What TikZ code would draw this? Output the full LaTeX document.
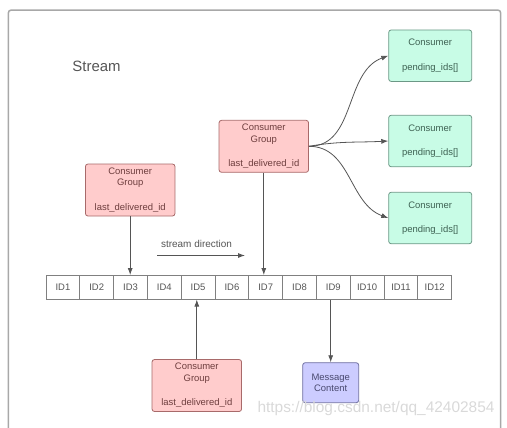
\documentclass[tikz,border=0pt]{standalone}
\usepackage{fontspec}
\setmainfont{Liberation Sans}
\usetikzlibrary{arrows.meta}
\usetikzlibrary{positioning}

\definecolor{groupfill}{HTML}{FFCCCC}
\definecolor{groupline}{HTML}{A86A6A}
\definecolor{grouptext}{HTML}{6E3E3E}
\definecolor{consfill}{HTML}{C8FCE6}
\definecolor{consline}{HTML}{6C9886}
\definecolor{constext}{HTML}{3E6253}
\definecolor{msgfill}{HTML}{CCCCFF}
\definecolor{msgline}{HTML}{6E6EA0}
\definecolor{msgtext}{HTML}{4A4A70}
\definecolor{linegray}{HTML}{555555}
\definecolor{framegray}{HTML}{A8A8A8}

\tikzset{
  box/.style={draw, rounded corners=2.5bp, line width=0.8bp, align=center,
    inner sep=0pt, font=\fontsize{9.5}{11.6}\selectfont},
  group/.style={box, fill=groupfill, draw=groupline, text=grouptext,
    minimum width=89.5bp, minimum height=52bp},
  consumer/.style={box, fill=consfill, draw=consline, text=constext,
    minimum width=83bp, minimum height=51.5bp},
  message/.style={box, fill=msgfill, draw=msgline, text=msgtext,
    minimum width=56bp, minimum height=40bp},
  idcell/.style={draw=gray, line width=0.8bp, fill=white, text=linegray,
    minimum width=33.8bp, minimum height=24.5bp, inner sep=0pt, outer sep=0pt,
    font=\fontsize{9.5}{11}\selectfont},
  link/.style={draw=linegray, line width=0.8bp, -{Latex[length=7bp,width=5bp]}}
}

\begin{document}
\begin{tikzpicture}[x=1bp, y=-1bp]
  \useasboundingbox (0,0) rectangle (507,427);
  \draw[framegray, line width=1.5bp, rounded corners=3bp] (8.3,440) -- (8.3,10) -- (500.7,10) -- (500.7,440);

  \node[text=linegray, font=\fontsize{15}{18}\selectfont] (title) at (96.5,66) {Stream};

  % the stream of ids
  \foreach \i in {1,...,12}
    \node[idcell] (id\i) at ({46+33.8*(\i-0.5)},287.3) {ID\i};

  \node[group] (cg1) at (130.2,190) {Consumer\\Group\\[13bp]last\_delivered\_id};
  \node[group] (cg2) at (263.8,146.3) {Consumer\\Group\\[13bp]last\_delivered\_id};
  \node[group] (cg3) at (196.8,385.5) {Consumer\\Group\\[13bp]last\_delivered\_id};
  \node[message] (msg) at (330.7,382.7) {Message\\Content};

  \node[consumer] (cons1) at (430.2,55.7) {Consumer\\[13bp]pending\_ids[]};
  \node[consumer] (cons2) at (430.2,141)  {Consumer\\[13bp]pending\_ids[]};
  \node[consumer] (cons3) at (430.2,218)  {Consumer\\[13bp]pending\_ids[]};

  \node[text=linegray, font=\fontsize{10}{12}\selectfont] (dirlabel) at (196.5,244) {stream direction};
  \coordinate (dirstart) at (157,255.5);
  \coordinate (dirend) at (245,255.5);

  \draw[link] (dirstart) -- (dirend);
  \draw[link] (cg1.south) -- (cg1.south |- id3.north);
  \draw[link] (cg2.south) -- (cg2.south |- id7.north);
  \draw[link] (cg3.north) -- (cg3.north |- id5.south);
  \draw[link] (msg.north |- id9.south) -- (msg.north);

  \draw[link] (cg2.east) to[out=0, in=200] (cons1.west);
  \draw[link] (cg2.east) to[out=10, in=183] (cons2.west);
  \draw[link] (cg2.east) to[out=0, in=160] (cons3.west);

  \node[text=black!15, font=\fontsize{15.5}{18}\selectfont] (mark) at (376,408) {https://blog.csdn.net/qq\_42402854};
\end{tikzpicture}
\end{document}
